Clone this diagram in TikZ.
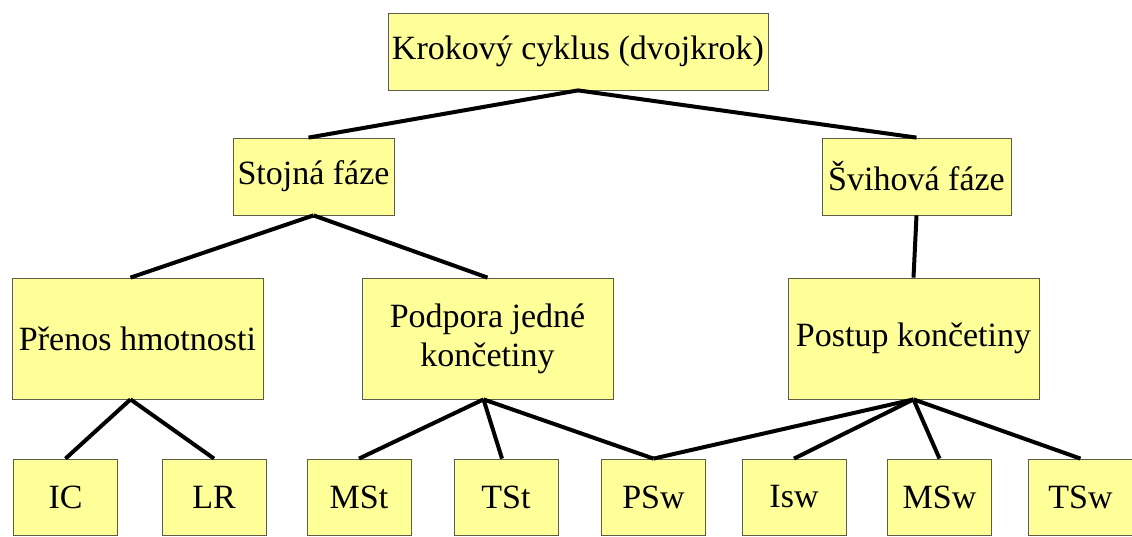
\documentclass[tikz,border=0pt]{standalone}
\usepackage{fontspec}
\setmainfont{Liberation Serif}
\newfontfamily\boxfont{Liberation Serif}
\usepackage{tikz}
\definecolor{boxfill}{HTML}{FFFF99}
\definecolor{boxline}{HTML}{5C5C48}

\begin{document}
\begin{tikzpicture}[x=1pt, y=-1pt,
  box/.style={draw=boxline, fill=boxfill, line width=0.8pt, align=center,
              font=\boxfont\fontsize{34}{39}\selectfont, inner sep=0pt},
  phase/.style={box, minimum height=77pt},
  part/.style={box, minimum width=251pt, minimum height=121pt},
  leaf/.style={box, minimum width=104pt, minimum height=76pt},
  link/.style={line width=4pt}
]
\useasboundingbox (0,0) rectangle (1132,537);
% cycle and its two phases
\node[phase, minimum width=380pt] (cyc) at (578,51.5) {Krokový cyklus (dvojkrok)};
\node[phase, minimum width=161pt] (st)  at (313.5,176.5) {Stojná fáze};
\node[phase, minimum width=189pt] (sw)  at (916.5,176.5) {Švihová fáze};
% sub-phases
\node[part] (pr) at (137.5,338.5) {Přenos hmotnosti};
\node[part] (po) at (487.5,338.5) {Podpora jedné\\končetiny};
\node[part] (pk) at (913.5,338.5) {Postup končetiny};
% gait events
\node[leaf] (ic)  at (65.5,497)  {IC};
\node[leaf] (lr)  at (214,497)   {LR};
\node[leaf] (mst) at (359,497)   {MSt};
\node[leaf] (tst) at (506,497)   {TSt};
\node[leaf] (psw) at (653.5,497) {PSw};
\node[leaf] (isw) at (794,497)   {Isw};
\node[leaf] (msw) at (939.5,497) {MSw};
\node[leaf] (tsw) at (1080.5,497) {TSw};
% tree lines
\draw[link] (cyc.south) -- ([xshift=-5pt]st.north);
\draw[link] (cyc.south) -- (sw.north);
\draw[link] (st.south) -- ([xshift=-7pt]pr.north);
\draw[link] (st.south) -- (po.north);
\draw[link] (sw.south) -- (pk.north);
\draw[link] ([xshift=-7pt]pr.south) -- (ic.north);
\draw[link] ([xshift=-7pt]pr.south) -- (lr.north);
\draw[link] ([xshift=-4pt]po.south) -- (mst.north);
\draw[link] ([xshift=-4pt]po.south) -- ([xshift=-4pt]tst.north);
\draw[link] ([xshift=-4pt]po.south) -- (psw.north);
\draw[link] (pk.south) -- (psw.north);
\draw[link] (pk.south) -- (isw.north);
\draw[link] (pk.south) -- (msw.north);
\draw[link] (pk.south) -- (tsw.north);
\end{tikzpicture}
\end{document}
